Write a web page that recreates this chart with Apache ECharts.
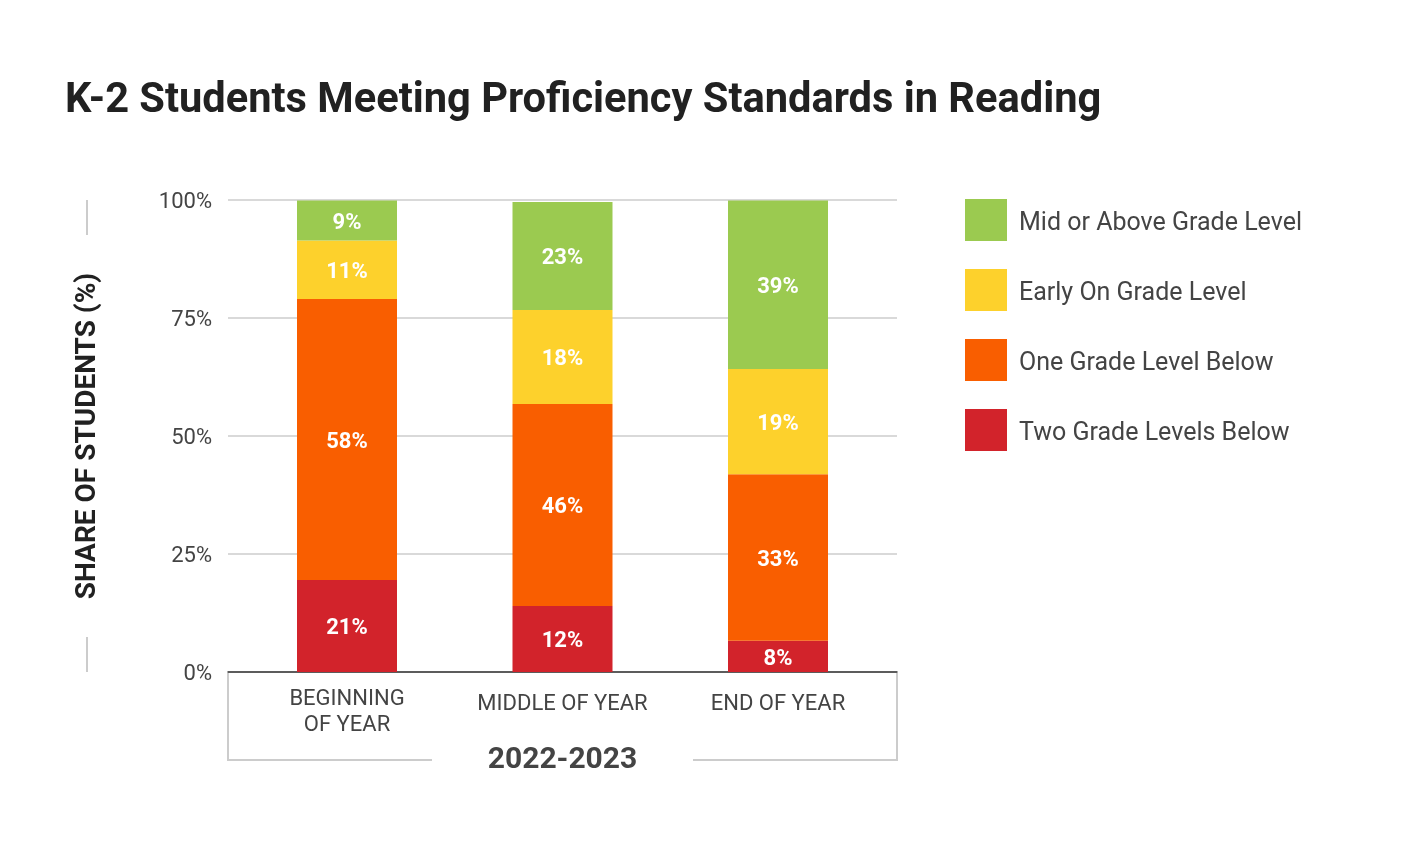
<!DOCTYPE html>
<html>
<head>
<meta charset="utf-8">
<script src="https://cdn.jsdelivr.net/npm/echarts@6/dist/echarts.min.js"></script>
<style>
  html, body { margin: 0; padding: 0; background: #fff; }
  #chart { width: 1407px; height: 850px; }
</style>
</head>
<body>
<div id="chart"></div>
<script>
// ---- data ----
const categories = ['BEGINNING\nOF YEAR', 'MIDDLE OF YEAR', 'END OF YEAR'];
const groupLabel = '2022-2023';
const seriesNames = ['Two Grade Levels Below', 'One Grade Level Below', 'Early On Grade Level', 'Mid or Above Grade Level'];
// drawn segment heights (share %)
const twoBelow   = [19.5, 14.0, 6.6];
const oneBelow   = [59.5, 42.8, 35.3];
const earlyOn    = [12.4, 19.9, 22.3];
const midAbove   = [8.5, 22.9, 35.7];
// printed labels
const twoBelowLabels = ['21%', '12%', '8%'];
const oneBelowLabels = ['58%', '46%', '33%'];
const earlyOnLabels  = ['11%', '18%', '19%'];
const midAboveLabels = ['9%', '23%', '39%'];
const yTicks = [0, 25, 50, 75, 100];

const colors = ['#D2232B', '#F95E00', '#FDD12C', '#9BCA50'];
const FONT = 'Roboto, "Noto Sans", sans-serif';

const chart = echarts.init(document.getElementById('chart'), null, { renderer: 'canvas' });

function mkSeries(name, values, labels, color) {
  return {
    name: name,
    type: 'bar',
    stack: 'total',
    barWidth: 100,
    xAxisIndex: 1,
    yAxisIndex: 1,
    data: values,
    itemStyle: { color: color },
    label: {
      show: true,
      position: 'inside',
      offset: [0, 3],
      color: '#fff',
      fontFamily: FONT,
      fontWeight: 'bold',
      fontSize: 22,
      formatter: p => labels[p.dataIndex]
    },
    emphasis: { disabled: true }
  };
}

const option = {
  animation: false,
  backgroundColor: '#fff',
  textStyle: { fontFamily: FONT },
  title: {
    text: 'K-2 Students Meeting Proficiency Standards in Reading',
    left: 60, top: 76,
    textStyle: { fontFamily: FONT, fontSize: 41.6, fontWeight: 'bold', color: '#212121' }
  },
  legend: {
    orient: 'vertical',
    left: 965, top: 199, padding: 0,
    itemWidth: 42, itemHeight: 42, itemGap: 28,
    icon: 'rect',
    data: [seriesNames[3], seriesNames[2], seriesNames[1], seriesNames[0]],
    formatter: '{t|{name}}',
    textStyle: {
      fontFamily: FONT, fontSize: 25, color: '#444', padding: [0, 0, 0, 7],
      rich: { t: { fontFamily: FONT, fontSize: 25, color: '#444', padding: [8, 0, 0, 0], backgroundColor: 'rgba(255,255,255,0)' } }
    },
    selectedMode: false
  },
  grid: [
    { left: 228, right: 510, top: 200, bottom: 178, containLabel: false },
    { left: 239.25, right: 521.25, top: 200, bottom: 178, containLabel: false }
  ],
  xAxis: [
    {
      gridIndex: 0,
      type: 'category',
      data: categories,
      axisLine: { lineStyle: { color: '#333', width: 1.5 } },
      axisTick: { show: false },
      axisLabel: { show: false },
      name: groupLabel,
      nameLocation: 'middle',
      nameGap: 73,
      nameTextStyle: { fontFamily: FONT, fontSize: 30, fontWeight: 'bold', color: '#444' }
    },
    {
      gridIndex: 1,
      type: 'category',
      data: [
        { value: categories[0], textStyle: { lineHeight: 26 } },
        { value: categories[1], textStyle: { lineHeight: 36 } },
        { value: categories[2], textStyle: { lineHeight: 36 } }
      ],
      axisLine: { show: false },
      axisTick: { show: false },
      axisLabel: { fontFamily: FONT, fontSize: 22, color: '#444', margin: 14, lineHeight: 26, interval: 0 }
    }
  ],
  yAxis: [
    {
      gridIndex: 0,
      type: 'value',
      min: yTicks[0], max: yTicks[yTicks.length - 1], interval: 25,
      axisLine: { show: false },
      axisTick: { show: false },
      splitLine: { lineStyle: { color: '#cccccc', width: 1.5 } },
      axisLabel: {
        fontFamily: FONT, fontSize: 22, color: '#444', margin: 16,
        formatter: '{v|{value}%}',
        rich: { v: { fontFamily: FONT, fontSize: 22, color: '#444', padding: [5, 0, 0, 0], backgroundColor: 'rgba(255,255,255,0)' } }
      },
      name: 'SHARE OF STUDENTS (%)',
      nameLocation: 'middle',
      nameRotate: 90,
      nameGap: 126,
      nameTextStyle: { fontFamily: FONT, fontSize: 28, fontWeight: 'bold', color: '#212121' }
    },
    {
      gridIndex: 1,
      type: 'value',
      min: yTicks[0], max: yTicks[yTicks.length - 1], interval: 25,
      show: false
    }
  ],
  graphic: [
    // y-title bracket lines
    { type: 'line', shape: { x1: 87, y1: 200, x2: 87, y2: 235 }, style: { stroke: '#cccccc', lineWidth: 2 } },
    { type: 'line', shape: { x1: 87, y1: 637, x2: 87, y2: 672 }, style: { stroke: '#cccccc', lineWidth: 2 } },
    // group bracket
    { type: 'polyline', shape: { points: [[228, 673], [228, 760], [432, 760]] }, style: { stroke: '#cccccc', lineWidth: 2, fill: null } },
    { type: 'polyline', shape: { points: [[693, 760], [897, 760], [897, 673]] }, style: { stroke: '#cccccc', lineWidth: 2, fill: null } }
  ],
  series: [
    mkSeries(seriesNames[0], twoBelow, twoBelowLabels, colors[0]),
    mkSeries(seriesNames[1], oneBelow, oneBelowLabels, colors[1]),
    mkSeries(seriesNames[2], earlyOn, earlyOnLabels, colors[2]),
    mkSeries(seriesNames[3], midAbove, midAboveLabels, colors[3])
  ]
};
chart.setOption(option);
</script>
</body>
</html>
